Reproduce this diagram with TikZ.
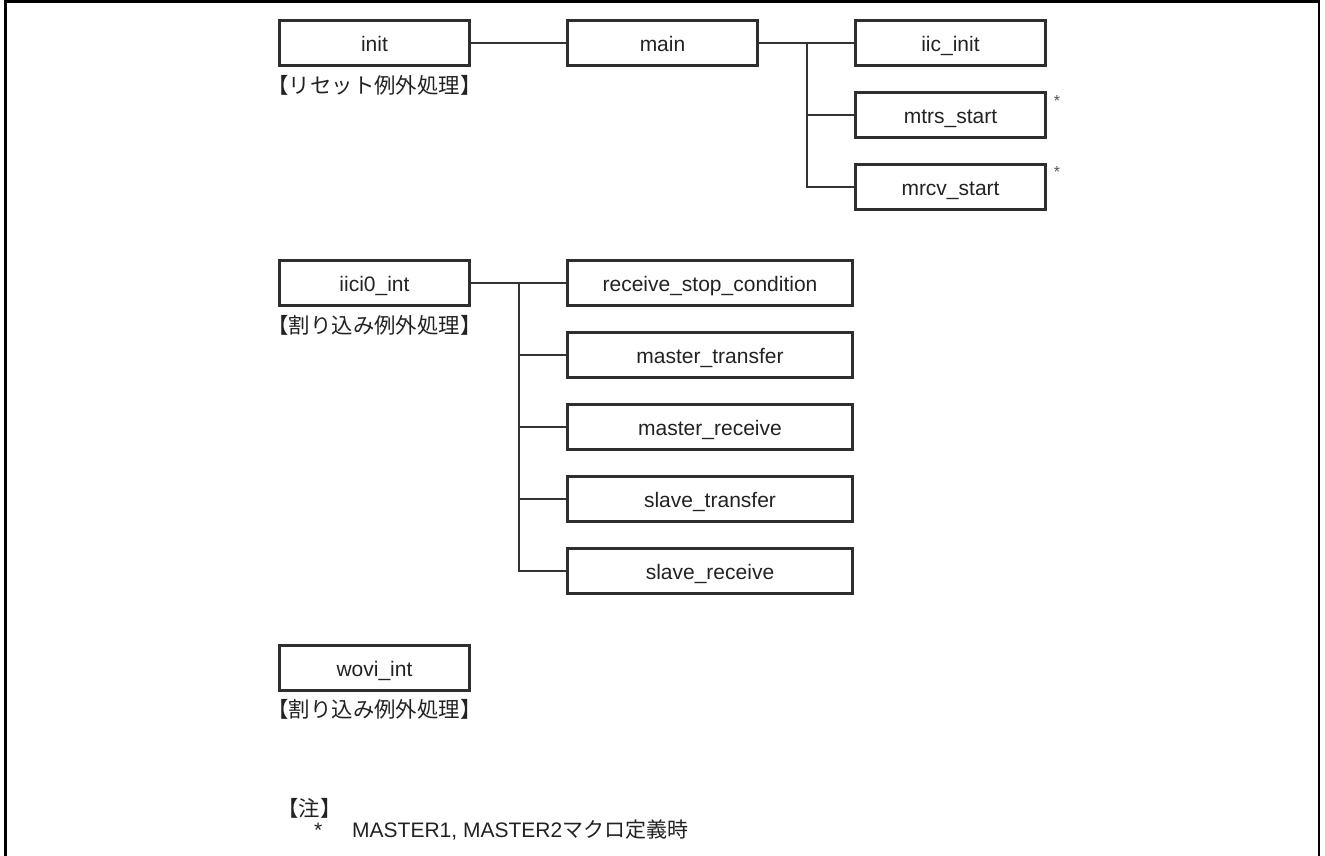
\documentclass[tikz,border=0pt]{standalone}
\usepackage{fontspec}
\setmainfont{Liberation Sans}
\newfontfamily\jp{Noto Sans CJK JP}
\definecolor{boxc}{HTML}{2E2E2E}
\definecolor{linec}{HTML}{333333}
\definecolor{txtc}{HTML}{222222}
\definecolor{astc}{HTML}{555555}
\begin{document}
\begin{tikzpicture}[x=1pt,y=-1pt,
  fbox/.style={draw=boxc, line width=2.8pt, minimum width=190pt, minimum height=45pt,
    inner sep=0pt, text height=17pt, text depth=0pt, text=txtc,
    font=\fontsize{21}{25}\selectfont},
  wbox/.style={fbox, minimum width=285pt},
  conn/.style={draw=linec, line width=1.5pt},
  lbl/.style={anchor=base, inner sep=0pt, text=txtc, font=\jp\fontsize{21.4}{25}\selectfont},
  astsmall/.style={inner sep=0pt, text=astc, font=\fontsize{16}{18}\selectfont},
  notetext/.style={anchor=base west, inner sep=0pt, text=txtc, font=\fontsize{21}{25}\selectfont}]
\useasboundingbox (0,0) rectangle (1325,856);
% frame
\draw[line width=2.6pt, draw=black] (5.3,860) -- (5.3,1.3) -- (1319,1.3) -- (1319,860);

% top group
\node[fbox] (init) at (374.5,43) {init};
\node[lbl] (initl) at (374.5,94) {【リセット例外処理】};
\node[fbox] (main) at (662.5,43) {main};
\node[fbox] (iic) at (950.5,43) {iic\_init};
\node[fbox] (mtrs) at (950.5,115) {mtrs\_start};
\node[fbox] (mrcv) at (950.5,187) {mrcv\_start};
\node[astsmall] (a1) at (1057,101) {*};
\node[astsmall] (a2) at (1057,172) {*};
\coordinate (mb) at (807,43);
\draw[conn] (init.east) -- (main.west);
\draw[conn] (main.east) -- (iic.west);
\draw[conn] (mb) |- (mtrs.west);
\draw[conn] (mb) |- (mrcv.west);

% interrupt group
\node[fbox] (iici) at (374.5,283) {iici0\_int};
\node[lbl] (iicil) at (374.5,333) {【割り込み例外処理】};
\node[wbox] (rsc) at (710,283) {receive\_stop\_condition};
\node[wbox] (mt) at (710,355) {master\_transfer};
\node[wbox] (mr) at (710,427) {master\_receive};
\node[wbox] (st) at (710,499) {slave\_transfer};
\node[wbox] (sr) at (710,571) {slave\_receive};
\coordinate (ib) at (519,283);
\draw[conn] (iici.east) -- (rsc.west);
\draw[conn] (ib) |- (mt.west);
\draw[conn] (ib) |- (mr.west);
\draw[conn] (ib) |- (st.west);
\draw[conn] (ib) |- (sr.west);

% wovi
\node[fbox] (wovi) at (374.5,668) {wovi\_int};
\node[lbl] (wovil) at (374.5,717.5) {【割り込み例外処理】};

% note
\node[lbl, anchor=base west] (chu) at (277,816.5) {【注】};
\node[notetext] (nast) at (314,837) {*};
\node[notetext] (ntxt) at (352,837) {MASTER1, MASTER2{\jp マクロ定義時}};
\end{tikzpicture}
\end{document}
